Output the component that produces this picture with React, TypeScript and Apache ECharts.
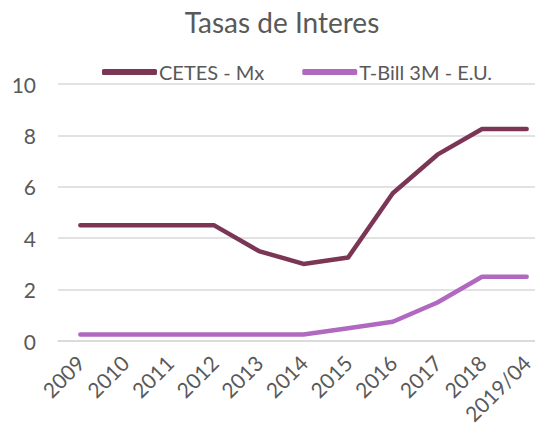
import React, { useEffect, useRef } from "react";
import * as echarts from "echarts";

const categories = ["2009", "2010", "2011", "2012", "2013", "2014", "2015", "2016", "2017", "2018", "2019/04"];
const cetes = [4.5, 4.5, 4.5, 4.5, 3.5, 3.0, 3.25, 5.75, 7.25, 8.25, 8.25];
const tbill = [0.25, 0.25, 0.25, 0.25, 0.25, 0.25, 0.5, 0.75, 1.5, 2.5, 2.5];

const FONT = "Lato, 'Open Sans', sans-serif";
const TXT = "#595959";

export default function App() {
  const ref = useRef<HTMLDivElement>(null);
  useEffect(() => {
    if (!ref.current) return;
    const chart = echarts.init(ref.current, undefined, { renderer: "svg" });
    chart.setOption({
      animation: false,
      title: {
        text: "Tasas de Interes",
        left: 277,
        textAlign: "center",
        top: 3,
        textStyle: { fontFamily: FONT, fontSize: 28, fontWeight: "normal", color: TXT },
      },
      legend: {
        top: 57,
        left: 97,
        itemWidth: 55,
        itemHeight: 6,
        itemGap: 38,
        icon: "roundRect",
        textStyle: { fontFamily: FONT, fontSize: 20, color: TXT, padding: [0, 0, 0, -3] },
        data: ["CETES - Mx", "T-Bill 3M - E.U."],
      },
      grid: { left: 58, right: 0, top: 84, bottom: 86, containLabel: false },
      xAxis: {
        type: "category",
        data: categories,
        boundaryGap: true,
        axisLine: { show: true, lineStyle: { color: "#d9d9d9", width: 1.5 } },
        axisTick: { show: false },
        axisLabel: {
          rotate: 45,
          interval: 0,
          margin: 18,
          fontFamily: FONT,
          fontSize: 21,
          color: TXT,
        },
      },
      yAxis: {
        type: "value",
        min: 0,
        max: 10,
        interval: 2,
        axisLine: { show: false },
        axisTick: { show: false },
        splitLine: { lineStyle: { color: "#d9d9d9", width: 1.5 } },
        axisLabel: { margin: 22, fontFamily: FONT, fontSize: 21, color: TXT },
      },
      series: [
        {
          name: "CETES - Mx",
          type: "line",
          data: cetes,
          symbol: "none",
          lineStyle: { color: "#7b3655", width: 4.5, cap: "round", join: "round" },
          itemStyle: { color: "#7b3655" },
        },
        {
          name: "T-Bill 3M - E.U.",
          type: "line",
          data: tbill,
          symbol: "none",
          lineStyle: { color: "#b068c0", width: 4.5, cap: "round", join: "round" },
          itemStyle: { color: "#b068c0" },
        },
      ],
    });
    return () => chart.dispose();
  }, []);
  return (
    <div style={{ width: 535, height: 427, position: "absolute", left: 0, top: 0, overflow: "hidden" }}>
      <div ref={ref} style={{ width: 549, height: 427 }} />
    </div>
  );
}
